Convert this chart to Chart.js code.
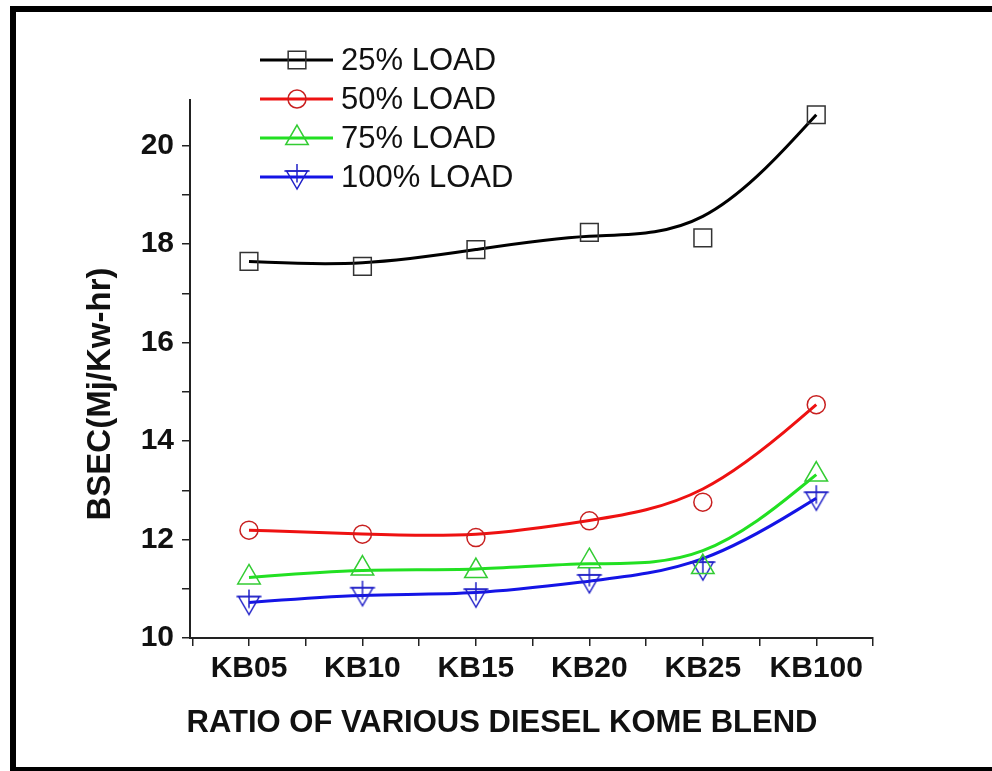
<!DOCTYPE html>
<html>
<head>
<meta charset="utf-8">
<script src="https://cdn.jsdelivr.net/npm/chart.js@4/dist/chart.umd.min.js"></script>
<style>
  html, body { margin: 0; padding: 0; background: #fff; overflow: hidden; }
  #frame {
    position: absolute; left: 10px; top: 6px; width: 1000px; height: 765px;
    box-sizing: border-box; border-top: 6px solid #000; border-left: 6px solid #000;
    border-bottom: 4px solid #000;
  }
  #wrap { position: absolute; left: 0; top: 0; width: 992px; height: 771px; }
</style>
</head>
<body>
<div id="frame"></div>
<div id="wrap"><canvas id="chart" width="992" height="771"></canvas></div>
<script>
// Blend labels along the x axis
const categories = ['KB05', 'KB10', 'KB15', 'KB20', 'KB25', 'KB100'];
// BSEC (MJ/kW-hr) for each engine load
const load25  = [17.65, 17.55, 17.89, 18.24, 18.13, 20.63];
const load50  = [12.19, 12.11, 12.04, 12.38, 12.76, 14.74];
const load75  = [11.23, 11.41, 11.36, 11.56, 11.44, 13.32];
const load100 = [10.72, 10.90, 10.87, 11.16, 11.42, 12.84];
const seriesNames = ['25% LOAD', '50% LOAD', '75% LOAD', '100% LOAD'];
const yTickValues = [10, 11, 12, 13, 14, 15, 16, 17, 18, 19, 20];
const xTickValues = [-0.5, 0, 0.5, 1, 1.5, 2, 2.5, 3, 3.5, 4, 4.5, 5, 5.5];

const FONT = '"Liberation Sans", Arial, Helvetica, sans-serif';

// Down-pointing triangle with a plus, used for the 100% load series
function downTriPlus(color) {
  const c = document.createElement('canvas');
  c.width = 30; c.height = 30;
  const g = c.getContext('2d');
  const cx = 15, cy = 15, r = 12;
  g.strokeStyle = color; g.lineWidth = 1.5;
  g.beginPath();
  g.moveTo(cx, cy + r);
  g.lineTo(cx - r * 0.866, cy - r / 2);
  g.lineTo(cx + r * 0.866, cy - r / 2);
  g.closePath();
  g.stroke();
  g.beginPath();
  g.moveTo(cx - r * 1.05, cy - r / 2); g.lineTo(cx + r * 1.05, cy - r / 2);
  g.moveTo(cx, cy - r - 1); g.lineTo(cx, cy + r * 0.45);
  g.stroke();
  return c;
}

const styles = [
  { line: '#000000', mark: '#333333', pointStyle: 'rect', radius: 12.5 },
  { line: '#ee1111', mark: '#c82020', pointStyle: 'circle', radius: 9 },
  { line: '#22e022', mark: '#33cc33', pointStyle: 'triangle', radius: 13 },
  { line: '#1414e6', mark: '#2020c8', pointStyle: downTriPlus('#2020c8'), radius: 12 }
];
const seriesValues = [load25, load50, load75, load100];

const datasets = seriesValues.map((vals, i) => ({
  label: seriesNames[i],
  data: vals.map((v, k) => ({ x: k, y: v })),
  showLine: false,
  borderColor: styles[i].mark,
  backgroundColor: 'rgba(0,0,0,0)',
  pointStyle: styles[i].pointStyle,
  pointRadius: styles[i].radius,
  pointHoverRadius: styles[i].radius,
  pointBorderWidth: 1.5,
  pointBorderColor: styles[i].mark,
  pointBackgroundColor: 'rgba(0,0,0,0)'
}));

// Smooth B-spline curve through the series, using the data points as control points
const splinePlugin = {
  id: 'bspline',
  beforeDatasetsDraw(chart) {
    const ctx = chart.ctx, area = chart.chartArea;
    ctx.save();
    ctx.beginPath();
    ctx.rect(area.left, area.top, area.right - area.left, area.bottom - area.top);
    ctx.clip();
    chart.data.datasets.forEach((ds, i) => {
      const xs = chart.scales.x, ys = chart.scales.y;
      const pts = ds.data.map(d => ({ x: xs.getPixelForValue(d.x), y: ys.getPixelForValue(d.y) }));
      const n = pts.length;
      const p = [pts[0], pts[0]].concat(pts, [pts[n - 1], pts[n - 1]]);
      ctx.beginPath();
      ctx.moveTo(pts[0].x, pts[0].y);
      for (let k = 0; k + 3 < p.length; k++) {
        const B = p[k + 1], C = p[k + 2], D = p[k + 3];
        ctx.bezierCurveTo(
          (2 * B.x + C.x) / 3, (2 * B.y + C.y) / 3,
          (B.x + 2 * C.x) / 3, (B.y + 2 * C.y) / 3,
          (B.x + 4 * C.x + D.x) / 6, (B.y + 4 * C.y + D.y) / 6
        );
      }
      ctx.strokeStyle = styles[i].line;
      ctx.lineWidth = 3;
      ctx.lineJoin = 'round';
      ctx.stroke();
    });
    ctx.restore();
  }
};

// Legend in the upper left, and the two axis titles
const decorPlugin = {
  id: 'decor',
  afterDraw(chart) {
    const ctx = chart.ctx;
    ctx.save();
    seriesNames.forEach((name, i) => {
      const y = 60 + 39 * i;
      ctx.beginPath();
      ctx.moveTo(260, y); ctx.lineTo(333, y);
      ctx.strokeStyle = styles[i].line; ctx.lineWidth = 3; ctx.stroke();
      ctx.strokeStyle = styles[i].mark; ctx.fillStyle = 'rgba(0,0,0,0)'; ctx.lineWidth = 1.5;
      Chart.helpers.drawPoint(ctx, { pointStyle: styles[i].pointStyle, radius: styles[i].radius, rotation: 0, borderWidth: 1.5 }, 297, y);
      ctx.fillStyle = '#111';
      ctx.font = '31px ' + FONT;
      ctx.textAlign = 'left'; ctx.textBaseline = 'middle';
      ctx.fillText(name, 341, y + 1);
    });
    ctx.fillStyle = '#111';
    ctx.font = 'bold 31px ' + FONT;
    ctx.textAlign = 'center'; ctx.textBaseline = 'middle';
    ctx.fillText('RATIO OF VARIOUS DIESEL KOME BLEND', 502, 723);
    ctx.font = 'bold 33px ' + FONT;
    ctx.translate(101, 394);
    ctx.rotate(-Math.PI / 2);
    ctx.fillText('BSEC(Mj/Kw-hr)', 0, 0);
    ctx.restore();
  }
};

new Chart(document.getElementById('chart'), {
  type: 'scatter',
  data: { datasets },
  plugins: [splinePlugin, decorPlugin],
  options: {
    responsive: false,
    animation: false,
    events: [],
    layout: { padding: { left: 90, top: 100, right: 119, bottom: 73 } },
    plugins: { legend: { display: false }, tooltip: { enabled: false } },
    scales: {
      x: {
        type: 'linear',
        min: -0.52, max: 5.5,
        afterBuildTicks: s => { s.ticks = xTickValues.map(v => ({ value: v })); },
        afterFit: s => { s.height = 60; },
        ticks: {
          autoSkip: false, maxRotation: 0, padding: 5, color: '#111',
          font: { family: FONT, size: 30, weight: 'bold' },
          callback: v => Number.isInteger(v) ? categories[v] : ''
        },
        grid: { drawOnChartArea: false, drawTicks: true, tickLength: 8, color: '#222', lineWidth: 1.5 },
        border: { display: true, color: '#222', width: 2 }
      },
      y: {
        type: 'linear',
        min: 10, max: 20.93,
        afterBuildTicks: s => { s.ticks = yTickValues.map(v => ({ value: v })); },
        afterFit: s => { s.width = 100; },
        ticks: {
          padding: 8, color: '#111',
          font: { family: FONT, size: 30, weight: 'bold' },
          callback: v => (v % 2 === 0 ? String(v) : '')
        },
        grid: { drawOnChartArea: false, drawTicks: true, tickLength: 8, color: '#222', lineWidth: 1.5 },
        border: { display: true, color: '#222', width: 2 }
      }
    }
  }
});
</script>
</body>
</html>
